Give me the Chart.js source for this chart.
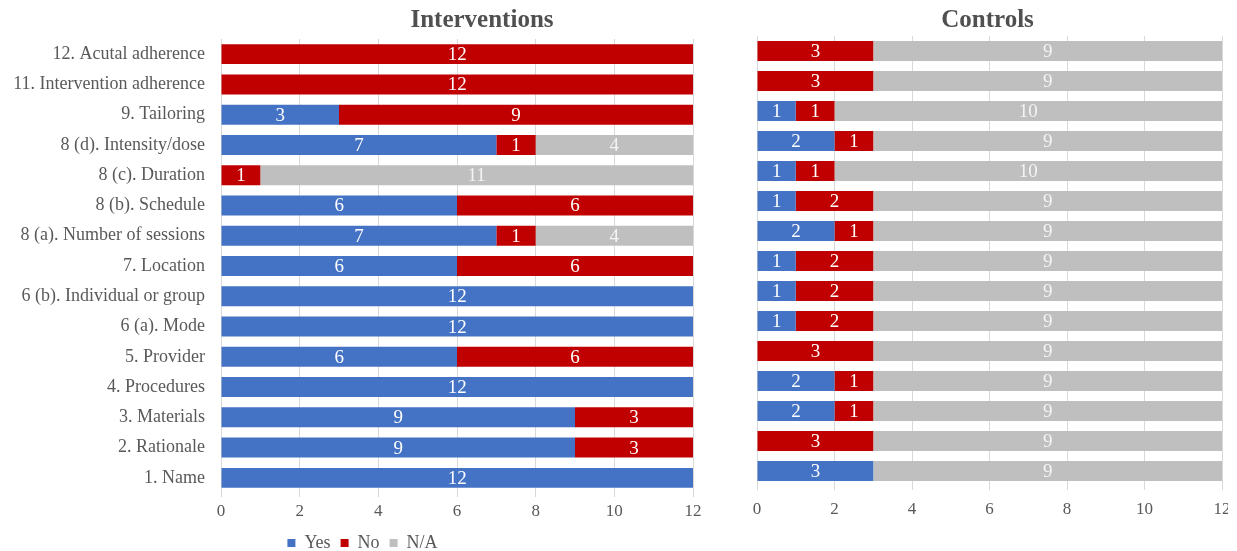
<!DOCTYPE html>
<html>
<head>
<meta charset="utf-8">
<script src="https://cdn.jsdelivr.net/npm/chart.js@4.4.0/dist/chart.umd.min.js"></script>
<style>
    body { margin: 0; background: #fff; overflow: hidden; }
    #leftBox { position: absolute; left: 0; top: 0; width: 725px; height: 551px; overflow: hidden; }
    #rightBox { position: absolute; left: 730px; top: 0; width: 498px; height: 551px; overflow: hidden; }
</style>
</head>
<body>
<div id="leftBox"><canvas id="interventionsChart" width="725" height="565"></canvas></div>
<div id="rightBox"><canvas id="controlsChart" width="520" height="551"></canvas></div>
<script>
const categories = [
    '12. Acutal adherence',
    '11. Intervention adherence',
    '9. Tailoring',
    '8 (d). Intensity/dose',
    '8 (c). Duration',
    '8 (b). Schedule',
    '8 (a). Number of sessions',
    '7. Location',
    '6 (b). Individual or group',
    '6 (a). Mode',
    '5. Provider',
    '4. Procedures',
    '3. Materials',
    '2. Rationale',
    '1. Name'
];

const intYes = [0, 0, 3, 7, 0, 6, 7, 6, 12, 12, 6, 12, 9, 9, 12];
const intNo  = [12, 12, 9, 1, 1, 6, 1, 6, 0, 0, 6, 0, 3, 3, 0];
const intNA  = [0, 0, 0, 4, 11, 0, 4, 0, 0, 0, 0, 0, 0, 0, 0];

const ctrlYes = [0, 0, 1, 2, 1, 1, 2, 1, 1, 1, 0, 2, 2, 0, 3];
const ctrlNo  = [3, 3, 1, 1, 1, 2, 1, 2, 2, 2, 3, 1, 1, 3, 0];
const ctrlNA  = [9, 9, 10, 9, 10, 9, 9, 9, 9, 9, 9, 9, 9, 9, 9];

const seriesNames = ['Yes', 'No', 'N/A'];
const seriesColors = ['#4472C4', '#C00000', '#BFBFBF'];

const serif = '"Liberation Serif", Tinos, "Times New Roman", "DejaVu Serif", serif';
const textGray = '#595959';

// writes the count in the middle of each bar piece
const barValues = {
    id: 'barValues',
    afterDatasetsDraw(chart) {
        const ctx = chart.ctx;
        ctx.save();
        ctx.font = '19px ' + serif;
        ctx.textAlign = 'center';
        ctx.textBaseline = 'middle';
        chart.data.datasets.forEach((ds, i) => {
            const meta = chart.getDatasetMeta(i);
            meta.data.forEach((bar, j) => {
                const v = ds.data[j];
                if (!v) return;
                const p = bar.getCenterPoint();
                ctx.fillStyle = i === 2 ? '#f4f4f4' : '#ffffff';
                ctx.fillText(v, p.x, p.y + 1);
            });
        });
        ctx.restore();
    }
};

// title centred over the plot area
const plotTitle = {
    id: 'plotTitle',
    afterDraw(chart, args, opts) {
        const ctx = chart.ctx;
        const area = chart.chartArea;
        ctx.save();
        ctx.font = 'bold 25px ' + serif;
        ctx.fillStyle = '#505050';
        ctx.textAlign = 'center';
        ctx.textBaseline = 'middle';
        ctx.fillText(opts.text, (area.left + area.right) / 2 + (opts.shift || 0), 21);
        ctx.restore();
    }
};

function makeDatasets(yes, no, na) {
    return [yes, no, na].map((d, i) => ({
        label: seriesNames[i],
        data: d,
        backgroundColor: seriesColors[i],
        borderWidth: 0,
        barPercentage: 0.66,
        categoryPercentage: 1
    }));
}

function makeChart(el, yes, no, na, o) {
    const scales = {
        x: {
            stacked: true,
            min: 0,
            max: 12,
            ticks: {
                stepSize: 2,
                padding: o.tickPad,
                color: textGray,
                font: { family: serif, size: 17 }
            },
            grid: { color: '#d9d9d9', tickLength: 4 },
            border: { display: false },
            afterFit: s => { s.height = o.axisH; }
        },
        y: {
            stacked: true,
            display: o.showCats,
            ticks: {
                padding: 8,
                color: textGray,
                font: { family: serif, size: 18 }
            },
            grid: { display: false },
            border: { display: false },
            afterFit: s => { if (o.showCats) s.width = 221; }
        }
    };
    if (o.rightGap) {
        // empty right-hand axis, only keeps space so the legend stays centred on the canvas
        scales.yGap = {
            type: 'category',
            position: 'right',
            ticks: { display: false },
            grid: { display: false },
            border: { display: false },
            afterFit: s => { s.width = o.rightGap; }
        };
    }
    return new Chart(el, {
        type: 'bar',
        data: { labels: categories, datasets: makeDatasets(yes, no, na) },
        plugins: [barValues, plotTitle],
        options: {
            indexAxis: 'y',
            responsive: false,
            animation: false,
            layout: { padding: o.padding },
            plugins: {
                legend: {
                    display: o.legend,
                    position: 'bottom',
                    labels: {
                        boxWidth: 8,
                        boxHeight: 8,
                        padding: 10,
                        color: textGray,
                        font: { family: serif, size: 18 }
                    }
                },
                tooltip: { enabled: false },
                plotTitle: { text: o.title, shift: o.shift }
            },
            scales: scales
        }
    });
}

function render() {
    const interventionsChart = makeChart(document.getElementById('interventionsChart'),
        intYes, intNo, intNA,
        { title: 'Interventions', shift: 25, legend: true, showCats: true, tickPad: 4, axisH: 31, rightGap: 32,
          padding: { top: 39, right: 0, bottom: 3, left: 0 } });

    const controlsChart = makeChart(document.getElementById('controlsChart'),
        ctrlYes, ctrlNo, ctrlNA,
        { title: 'Controls', shift: -2, legend: false, showCats: false, tickPad: 9, axisH: 32,
          padding: { top: 36, right: 28, bottom: 33, left: 27 } });
}

Promise.all([
    document.fonts.load('18px "Liberation Serif"'),
    document.fonts.load('bold 25px "Liberation Serif"')
]).then(render, render);
</script>
</body>
</html>
